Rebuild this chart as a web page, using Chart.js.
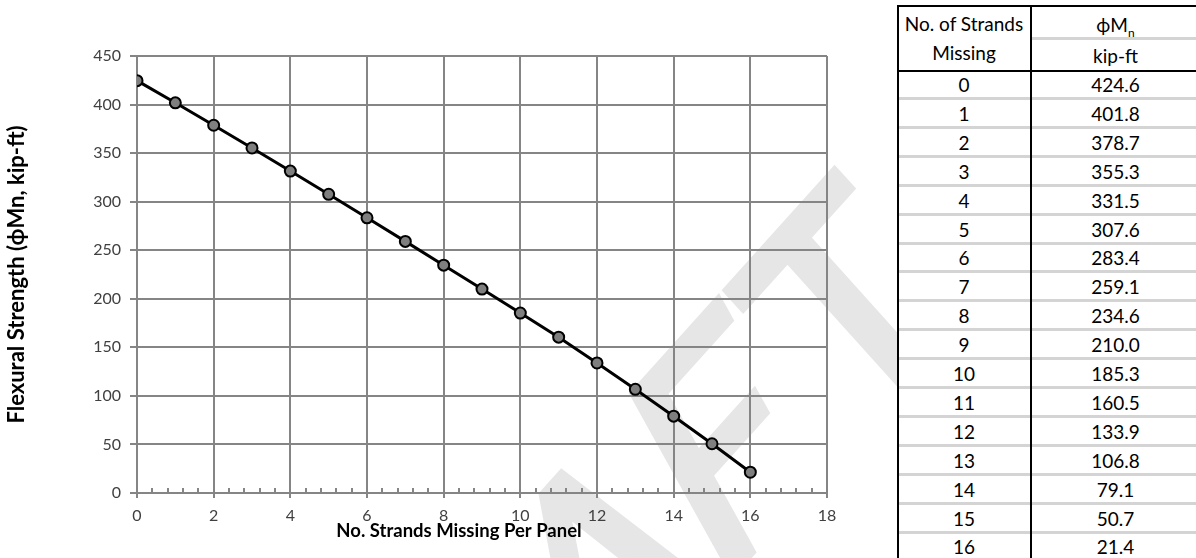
<!DOCTYPE html>
<html>
<head>
<meta charset="utf-8">
<script src="https://cdn.jsdelivr.net/npm/chart.js@4/dist/chart.umd.min.js"></script>
<style>
  html, body { margin: 0; padding: 0; background: #fff; overflow: hidden; }
  #wrap { position: relative; width: 1196px; height: 558px; overflow: hidden; }
  #plot { position: absolute; left: 0; top: 0; }
  #tbl {
    position: absolute; left: 897px; top: 0; width: 304px; height: 558px; background: #fff;
    font-family: Lato, "Open Sans", sans-serif; font-size: 19px; color: #000;
  }
  #tbl div { position: absolute; }
  #tbl .txt { display: flex; align-items: center; justify-content: center; height: 24px; line-height: 1; white-space: nowrap; }
  .sub { font-size: 12px; position: relative; top: 5px; }
</style>
</head>
<body>
<div id="wrap">
  <canvas id="plot" width="1196" height="558"></canvas>
  <div id="tbl"></div>
</div>
<script>
const strands = [0, 1, 2, 3, 4, 5, 6, 7, 8, 9, 10, 11, 12, 13, 14, 15, 16];
const phiMn = [424.6, 401.8, 378.7, 355.3, 331.5, 307.6, 283.4, 259.1, 234.6, 210.0, 185.3, 160.5, 133.9, 106.8, 79.1, 50.7, 21.4];
const xRange = [0, 18];
const yRange = [0, 450];

const gridColor = '#858585';

// table on the right (positions relative to the table box at x=897)
const tbl = document.getElementById('tbl');
const colL = [0, 134];
const colR = [134, 303];
const rowH = 28.9;

function box(x, y, w, h, bg) {
    const d = document.createElement('div');
    d.style.cssText = `left:${x}px;top:${y}px;width:${w}px;height:${h}px;background:${bg}`;
    tbl.appendChild(d);
}
function label(x0, x1, cy, htmlText) {
    const d = document.createElement('div');
    d.className = 'txt';
    d.style.left = x0 + 'px';
    d.style.width = (x1 - x0) + 'px';
    d.style.top = (cy - 12) + 'px';
    d.innerHTML = '<span>' + htmlText + '</span>';
    tbl.appendChild(d);
}

// gray separators first, black borders over them
box(colR[0], 37, colR[1] - colR[0], 3, '#d4d4d4');
for (let i = 1; i < strands.length; i++) {
    box(0, 97 + (i - 1) * rowH, 303, 3, '#d4d4d4');
}
box(0, 5, 303, 2, '#000');
box(0, 70, 303, 2, '#000');
box(0, 5, 2, 560, '#000');
box(133, 5, 2, 560, '#000');
box(301, 5, 2, 560, '#000');

label(colL[0], colL[1], 23, 'No. of Strands');
label(colL[0], colL[1], 52, 'Missing');
label(colR[0], colR[1], 24, 'ϕM<span class="sub">n</span>');
label(colR[0], colR[1], 55, 'kip-ft');
strands.forEach((s, i) => {
    const cy = 84.5 + i * rowH;
    label(colL[0], colL[1], cy, String(s));
    label(colR[0], colR[1], cy, phiMn[i].toFixed(1));
});

// draw text on a sheared diagonal
function slanted(ctx, text, ua, va, ox, oy) {
    const a = ua * Math.PI / 180, b = va * Math.PI / 180;
    ctx.setTransform(Math.cos(a), Math.sin(a), Math.cos(b), Math.sin(b), ox, oy);
    ctx.fillText(text, 0, 0);
    ctx.strokeText(text, 0, 0);
}

// watermark + minor ticks + x title
const extras = {
    id: 'extras',
    beforeDraw(chart) {
        const ctx = chart.ctx;
        ctx.save();
        ctx.font = '285px Lato';
        ctx.fillStyle = '#e6e6e6';
        ctx.strokeStyle = '#e6e6e6';
        ctx.lineWidth = 9;
        ctx.textAlign = 'right';
        ctx.textBaseline = 'alphabetic';
        const wT = ctx.measureText('T').width;
        const ua = -48 * Math.PI / 180;
        slanted(ctx, 'DRAF', -48, 61, 936 - wT * Math.cos(ua), 347 - wT * Math.sin(ua));
        slanted(ctx, 'T', -48, 48, 974, 320);
        ctx.restore();
    },
    afterDraw(chart) {
        const ctx = chart.ctx;
        const x = chart.scales.x;
        const bottom = chart.chartArea.bottom;
        ctx.save();
        ctx.strokeStyle = gridColor;
        ctx.lineWidth = 2;
        for (let v = 0.4; v < xRange[1]; v += 0.4) {
            if (Math.abs(v / 2 - Math.round(v / 2)) < 0.01) continue;
            const px = Math.round(x.getPixelForValue(v));
            ctx.beginPath();
            ctx.moveTo(px, bottom);
            ctx.lineTo(px, bottom - 5);
            ctx.stroke();
        }
        ctx.fillStyle = '#000';
        ctx.font = 'bold 18.5px Lato';
        ctx.textAlign = 'center';
        ctx.textBaseline = 'middle';
        ctx.fillText('No. Strands Missing Per Panel', x.getPixelForValue(8.4), 531);
        ctx.restore();
    }
};

new Chart(document.getElementById('plot'), {
    type: 'line',
    data: {
        datasets: [{
            data: strands.map((s, i) => ({ x: s, y: phiMn[i] })),
            borderColor: '#000',
            borderWidth: 3,
            pointRadius: 5.5,
            pointBorderWidth: 2,
            pointBackgroundColor: '#7f7f7f',
            pointBorderColor: '#000',
            tension: 0
        }]
    },
    options: {
        responsive: false,
        animation: false,
        events: [],
        layout: { padding: { left: 0, top: 56, right: 369, bottom: 0 } },
        plugins: { legend: { display: false }, tooltip: { enabled: false } },
        scales: {
            x: {
                type: 'linear',
                min: xRange[0], max: xRange[1],
                afterFit: (s) => { s.height = 65; },
                ticks: { stepSize: 2, padding: 8, color: '#404040', font: { family: 'Lato', size: 16 } },
                grid: { color: gridColor, lineWidth: 2, tickLength: 5 },
                border: { color: gridColor, width: 2 }
            },
            y: {
                min: yRange[0], max: yRange[1],
                afterFit: (s) => { s.width = 137; },
                ticks: { stepSize: 50, padding: 9, color: '#404040', font: { family: 'Lato', size: 16 } },
                grid: { color: gridColor, lineWidth: 2, tickLength: 7 },
                border: { color: gridColor, width: 2 },
                title: {
                    display: true,
                    text: 'Flexural Strength (ϕMn, kip-ft)',
                    color: '#000',
                    font: { family: 'Lato', size: 22, weight: 'bold' },
                    padding: { top: 4, bottom: 0 }
                }
            }
        }
    },
    plugins: [extras]
});
</script>
</body>
</html>
